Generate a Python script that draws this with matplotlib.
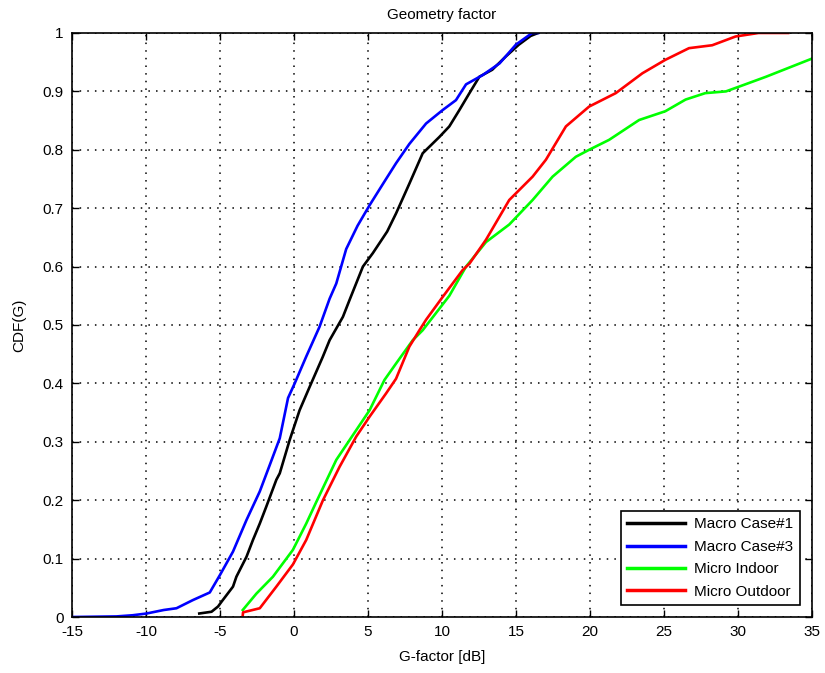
import matplotlib
matplotlib.use("Agg")
import matplotlib.pyplot as plt

plt.rcParams['font.family'] = ['Liberation Sans', 'DejaVu Sans']

# Macro Case#1 (black)
mc1_x = [-6.4, -5.57, -5.13, -4.9, -4.12, -3.89, -3.21, -2.77, -2.31, -1.87, -1.19, -0.96, -0.29,
         0.38, 1.06, 1.94, 2.41, 3.31, 3.76, 4.66, 5.33, 6.3, 6.9, 7.8, 8.7, 9.83, 10.5, 11.18,
         11.86, 12.53, 13.4, 14.33, 15.2, 16.0, 16.5]
mc1_y = [0.006, 0.009, 0.018, 0.026, 0.052, 0.069, 0.103, 0.132, 0.16, 0.189, 0.235, 0.246, 0.303,
         0.354, 0.394, 0.445, 0.474, 0.514, 0.543, 0.60, 0.623, 0.66, 0.691, 0.742, 0.794, 0.822,
         0.84, 0.868, 0.897, 0.925, 0.937, 0.96, 0.98, 0.995, 1.0]
# Macro Case#3 (blue)
mc3_x = [-15.0, -12.0, -10.9, -9.96, -8.8, -7.94, -6.83, -5.69, -5.0, -4.12, -3.21, -2.31, -1.64,
         -0.96, -0.4, 0.05, 0.83, 1.73, 2.41, 2.86, 3.53, 4.3, 5.11, 6.1, 6.9, 7.8, 8.93, 10.05,
         10.95, 11.63, 12.76, 13.9, 15.0, 16.1, 16.5]
mc3_y = [0.0, 0.001, 0.003, 0.006, 0.012, 0.015, 0.029, 0.042, 0.072, 0.112, 0.166, 0.215, 0.26,
         0.306, 0.375, 0.40, 0.446, 0.497, 0.545, 0.571, 0.63, 0.67, 0.705, 0.745, 0.777, 0.81,
         0.845, 0.868, 0.885, 0.912, 0.928, 0.948, 0.98, 1.0, 1.0]
# Micro Indoor (green)
mi_x = [-3.46, -2.54, -1.42, -0.07, 0.83, 1.51, 2.86, 4.21, 5.11, 6.12, 6.9, 8.03, 8.7, 9.83,
        10.5, 11.63, 12.98, 14.55, 16.13, 17.48, 19.05, 19.95, 21.3, 23.33, 25.1, 26.47, 27.8,
        29.2, 30.07, 31.9, 33.7, 35.0]
mi_y = [0.012, 0.04, 0.069, 0.115, 0.16, 0.197, 0.269, 0.32, 0.354, 0.406, 0.434, 0.474, 0.491,
        0.528, 0.55, 0.60, 0.642, 0.672, 0.714, 0.754, 0.788, 0.80, 0.817, 0.851, 0.866, 0.886,
        0.897, 0.90, 0.908, 0.925, 0.943, 0.956]
# Micro Outdoor (red)
mo_x = [-3.46, -3.44, -2.31, -1.19, -0.07, 0.83, 1.96, 3.08, 4.21, 5.11, 6.23, 6.9, 7.8, 8.48,
        8.93, 10.05, 11.4, 11.86, 12.98, 14.55, 16.13, 17.03, 18.38, 19.95, 21.75, 23.55, 25.1,
        26.7, 28.27, 29.85, 31.4, 33.4]
mo_y = [0.003, 0.008, 0.015, 0.052, 0.09, 0.132, 0.2, 0.257, 0.309, 0.343, 0.383, 0.408, 0.463,
        0.491, 0.509, 0.548, 0.594, 0.605, 0.646, 0.714, 0.754, 0.783, 0.84, 0.874, 0.897, 0.931,
        0.954, 0.974, 0.979, 0.994, 1.0, 1.0]

series = [
    ("Macro Case#1", mc1_x, mc1_y, "#000000"),
    ("Macro Case#3", mc3_x, mc3_y, "#0000ff"),
    ("Micro Indoor", mi_x, mi_y, "#00ff00"),
    ("Micro Outdoor", mo_x, mo_y, "#ff0000"),
]

x_ticks = [-15, -10, -5, 0, 5, 10, 15, 20, 25, 30, 35]
y_ticks = [0, 0.1, 0.2, 0.3, 0.4, 0.5, 0.6, 0.7, 0.8, 0.9, 1]
y_labels = ["0", "0.1", "0.2", "0.3", "0.4", "0.5", "0.6", "0.7", "0.8", "0.9", "1"]

fig = plt.figure(figsize=(8.25, 6.73), dpi=100)
ax = fig.add_axes([0.0873, 0.0832, 0.8967, 0.8678])

for name, xs, ys, c in series:
    ax.plot(xs, ys, color=c, lw=1.9, label=name)

ax.set_xlim(-15, 35)
ax.set_ylim(0, 1)
ax.set_xticks(x_ticks)
ax.set_xticklabels([str(t) for t in x_ticks])
ax.set_yticks(y_ticks)
ax.set_yticklabels(y_labels)
ax.tick_params(direction='in', top=True, right=True, length=5, width=1, labelsize=11, pad=6)
ax.grid(True, color='black', linestyle=(0, (1, 4)), linewidth=1.1)
for s in ax.spines.values():
    s.set_linewidth(1.2)

ax.set_title("Geometry factor", fontsize=11, pad=10)
ax.set_xlabel("G-factor [dB]", fontsize=11, labelpad=8)
ax.set_ylabel("CDF(G)", fontsize=11, labelpad=12)

leg = ax.legend(loc='lower right', fontsize=11, frameon=True, fancybox=False,
                edgecolor='black', handlelength=3.8, borderaxespad=0.8,
                labelspacing=0.55, handletextpad=0.6)
leg.get_frame().set_linewidth(1.2)
leg.get_frame().set_alpha(1)
for line in leg.get_lines():
    line.set_linewidth(2.5)

fig.savefig("out.png", dpi=100)
